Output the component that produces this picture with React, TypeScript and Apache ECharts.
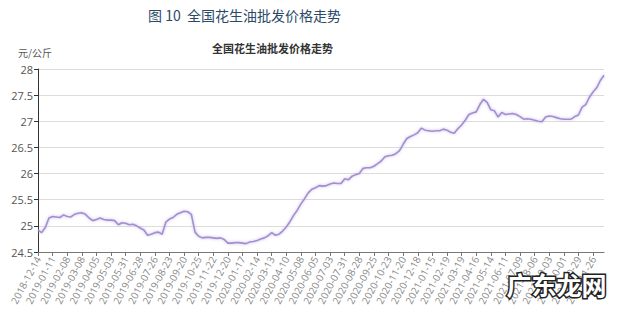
import React, { useEffect, useRef } from "react";
import * as echarts from "echarts";

// Tick-label dates (every 4th weekly observation)
const labelDates: string[] = [
  "2018-12-14", "2019-01-11", "2019-02-08", "2019-03-08", "2019-04-05", "2019-05-03",
  "2019-05-31", "2019-06-28", "2019-07-26", "2019-08-23", "2019-09-20", "2019-10-25",
  "2019-11-22", "2019-12-20", "2020-01-17", "2020-02-14", "2020-03-13", "2020-04-10",
  "2020-05-08", "2020-06-05", "2020-07-03", "2020-07-31", "2020-08-28", "2020-09-25",
  "2020-10-23", "2020-11-20", "2020-12-18", "2021-01-15", "2021-02-19", "2021-03-19",
  "2021-04-16", "2021-05-14", "2021-06-11", "2021-07-09", "2021-08-06", "2021-09-03",
  "2021-10-01", "2021-10-29", "2021-11-26",
];
const trailingWeeks = 3;

// Weekly wholesale price of peanut oil (元/公斤)
const prices: number[] = [
  24.92, 24.87, 24.97, 25.15, 25.18, 25.17, 25.16, 25.21, 25.18, 25.17,
  25.22, 25.24, 25.25, 25.22, 25.15, 25.10, 25.12, 25.15, 25.12, 25.11,
  25.11, 25.10, 25.02, 25.06, 25.05, 25.02, 25.03, 25.00, 24.96, 24.92,
  24.82, 24.84, 24.87, 24.88, 24.84, 25.07, 25.13, 25.16, 25.22, 25.25,
  25.28, 25.27, 25.22, 24.88, 24.80, 24.77, 24.78, 24.78, 24.77, 24.76,
  24.77, 24.74, 24.67, 24.67, 24.68, 24.68, 24.67, 24.66, 24.69, 24.70,
  24.72, 24.75, 24.77, 24.81, 24.87, 24.82, 24.84, 24.90, 24.98, 25.08,
  25.20, 25.30, 25.42, 25.52, 25.63, 25.70, 25.73, 25.77, 25.76, 25.77,
  25.80, 25.82, 25.81, 25.81, 25.90, 25.88, 25.95, 25.98, 26.00, 26.10,
  26.11, 26.11, 26.14, 26.19, 26.24, 26.32, 26.34, 26.35, 26.38, 26.44,
  26.56, 26.67, 26.71, 26.74, 26.78, 26.87, 26.83, 26.82, 26.81, 26.82,
  26.82, 26.85, 26.83, 26.79, 26.77, 26.86, 26.93, 27.02, 27.13, 27.16,
  27.18, 27.32, 27.42, 27.36, 27.22, 27.20, 27.08, 27.17, 27.13, 27.14,
  27.15, 27.13, 27.09, 27.04, 27.05, 27.04, 27.02, 27.00, 26.99, 27.08,
  27.10, 27.09, 27.07, 27.05, 27.04, 27.04, 27.04, 27.09, 27.12, 27.27,
  27.32, 27.46, 27.56, 27.64, 27.78, 27.88,
];

const yMin = 24.5;
const yMax = 28;
const yStep = 0.5;

const figureTitle = "图 10  全国花生油批发价格走势";
const chartTitle = "全国花生油批发价格走势";
const unitLabel = "元/公斤";
const watermark = "广东龙网";

function addDays(d: string, n: number): string {
  const t = new Date(d + "T00:00:00Z");
  t.setUTCDate(t.getUTCDate() + n);
  return t.toISOString().slice(0, 10);
}

function buildCategories(): string[] {
  const out: string[] = [];
  labelDates.forEach((d, i) => {
    out.push(d);
    const weeks = i < labelDates.length - 1 ? 3 : trailingWeeks;
    for (let k = 1; k <= weeks; k++) out.push(addDays(d, 7 * k));
  });
  return out;
}

const categories = buildCategories();

export default function App() {
  const ref = useRef<HTMLDivElement>(null);
  useEffect(() => {
    if (!ref.current) return;
    const chart = echarts.init(ref.current, undefined, { renderer: "svg" });
    const sans = "'Open Sans', 'Noto Sans CJK SC', sans-serif";
    chart.setOption({
      animation: false,
      backgroundColor: "#ffffff",
      textStyle: { fontFamily: sans },
      title: [
        {
          text: figureTitle,
          left: 143,
          top: 3,
          textStyle: {
            fontFamily: "'Noto Sans CJK SC', serif",
            fontSize: 14,
            fontWeight: "normal",
            color: "#2b4a68",
          },
        },
        {
          text: chartTitle,
          left: 207,
          top: 37,
          textStyle: {
            fontFamily: "'Noto Sans CJK SC', sans-serif",
            fontSize: 11,
            fontWeight: "bold",
            color: "#333333",
          },
        },
      ],
      graphic: [
        {
          type: "text",
          left: 18,
          top: 47,
          style: {
            text: unitLabel,
            fill: "#555555",
            font: "10px 'Noto Sans CJK SC', sans-serif",
          },
        },
        {
          type: "text",
          left: 505,
          top: 270,
          z: 100,
          style: {
            text: watermark,
            fill: "#ffffff",
            stroke: "#222222",
            lineWidth: 3,
            font: "bold 25px 'Noto Sans CJK SC', sans-serif",
          },
        },
      ],
      grid: { left: 38, right: 36, top: 69, bottom: 61, containLabel: false },
      xAxis: {
        type: "category",
        data: categories,
        boundaryGap: false,
        axisLine: { show: true, lineStyle: { color: "#777777", width: 1 } },
        axisTick: { show: true, interval: 3, length: 4, lineStyle: { color: "#777777" } },
        axisLabel: {
          interval: 3,
          rotate: 62,
          fontSize: 10,
          color: "#888888",
          margin: 5,
          fontFamily: sans,
        },
        splitLine: { show: false },
      },
      yAxis: {
        type: "value",
        min: yMin,
        max: yMax,
        interval: yStep,
        axisLine: { show: true, lineStyle: { color: "#333333", width: 1 } },
        axisTick: { show: true, length: 4, lineStyle: { color: "#333333" } },
        axisLabel: { fontSize: 11, color: "#555555", margin: 5, fontFamily: sans },
        splitLine: { show: true, lineStyle: { color: "#dcdcdc", width: 1 } },
      },
      series: [
        {
          type: "line",
          data: prices,
          showSymbol: false,
          symbol: "none",
          smooth: false,
          lineStyle: {
            color: "#a48ed2",
            width: 1.6,
            shadowColor: "rgba(195,178,232,0.9)",
            shadowBlur: 3,
          },
        },
      ],
    });
    return () => chart.dispose();
  }, []);
  return (
    <div
      ref={ref}
      style={{ position: "fixed", left: 0, top: 0, width: 640, height: 313, background: "#fff" }}
    />
  );
}
